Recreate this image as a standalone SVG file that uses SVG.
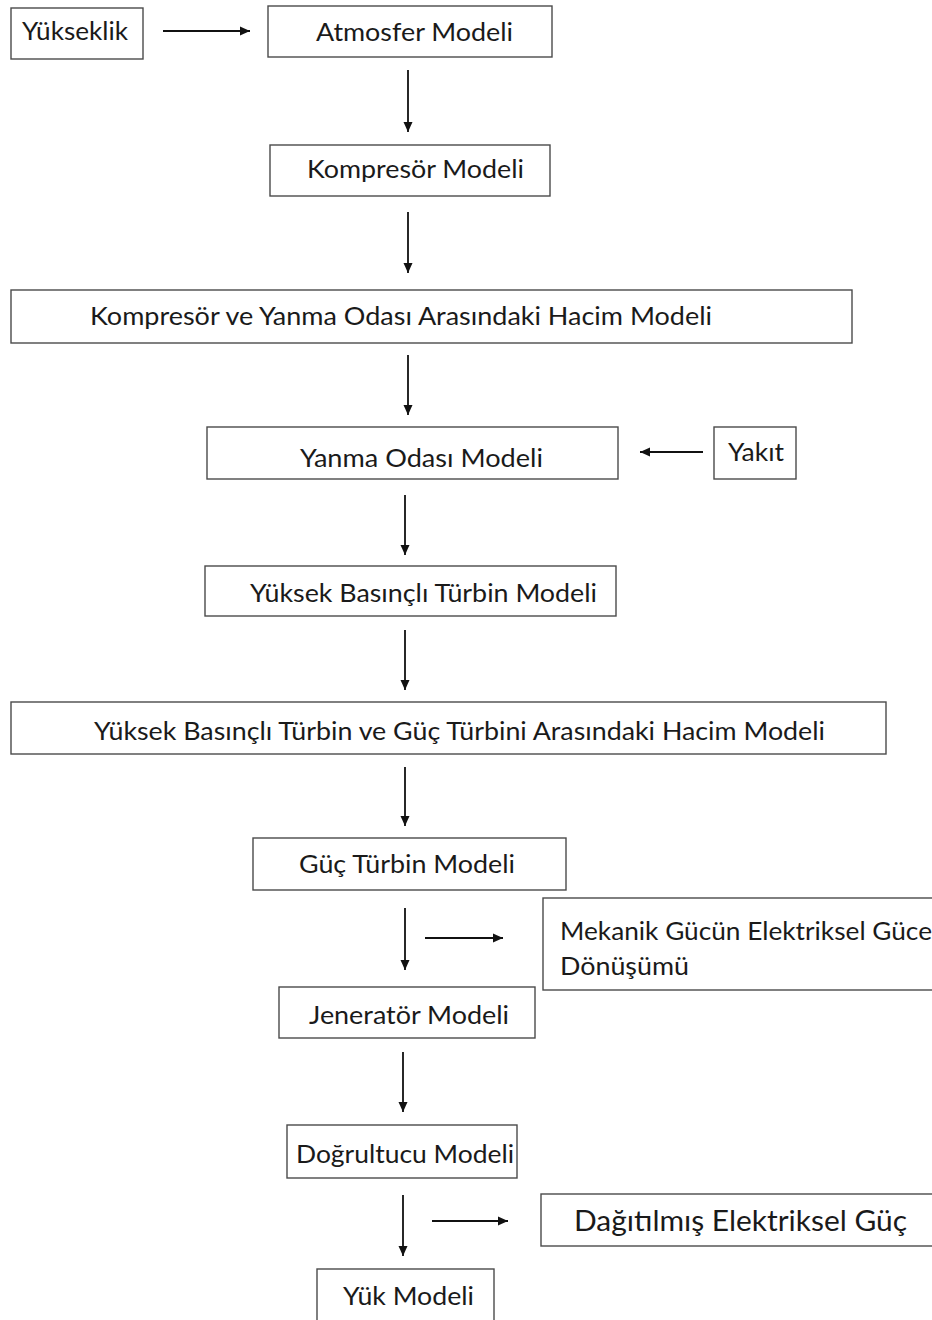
<svg xmlns="http://www.w3.org/2000/svg" width="932" height="1320" viewBox="0 0 932 1320">
<defs>
<style>
rect.b{fill:#fff;stroke:#4a4a4a;stroke-width:1.4}
text{font-family:Lato,"Noto Sans","Liberation Sans",sans-serif;font-size:25.5px;fill:#1a1a1a}
.c line{stroke:#111;stroke-width:1.8;fill:none}
</style>
<marker id="ah" viewBox="0 0 10 10" refX="10" refY="5" markerWidth="11" markerHeight="10" markerUnits="userSpaceOnUse" orient="auto">
<path d="M0,0.5 L10,5 L0,9.5 Z" fill="#111"/>
</marker>
</defs>
<rect width="932" height="1320" fill="#fff"/>
<g id="n-yukseklik"><rect class="b" x="11" y="8" width="132" height="51"/><text x="22" y="40" textLength="106" lengthAdjust="spacingAndGlyphs">Yükseklik</text></g>
<g id="n-atmosfer"><rect class="b" x="268" y="6" width="284" height="51"/><text x="316" y="41" textLength="197" lengthAdjust="spacingAndGlyphs">Atmosfer Modeli</text></g>
<g id="n-kompresor"><rect class="b" x="270" y="145" width="280" height="51"/><text x="307" y="178" textLength="217" lengthAdjust="spacingAndGlyphs">Kompresör Modeli</text></g>
<g id="n-hacim1"><rect class="b" x="11" y="290" width="841" height="53"/><text x="90" y="325" textLength="622" lengthAdjust="spacingAndGlyphs">Kompresör ve Yanma Odası Arasındaki Hacim Modeli</text></g>
<g id="n-yanma"><rect class="b" x="207" y="427" width="411" height="52"/><text x="300" y="467" textLength="243" lengthAdjust="spacingAndGlyphs">Yanma Odası Modeli</text></g>
<g id="n-yakit"><rect class="b" x="714" y="427" width="82" height="52"/><text x="728" y="461" textLength="56" lengthAdjust="spacingAndGlyphs">Yakıt</text></g>
<g id="n-ybt"><rect class="b" x="205" y="566" width="411" height="50"/><text x="250" y="602" textLength="347" lengthAdjust="spacingAndGlyphs">Yüksek Basınçlı Türbin Modeli</text></g>
<g id="n-hacim2"><rect class="b" x="11" y="702" width="875" height="52"/><text x="94" y="740" textLength="731" lengthAdjust="spacingAndGlyphs">Yüksek Basınçlı Türbin ve Güç Türbini Arasındaki Hacim Modeli</text></g>
<g id="n-guc"><rect class="b" x="253" y="838" width="313" height="52"/><text x="299" y="873" textLength="216" lengthAdjust="spacingAndGlyphs">Güç Türbin Modeli</text></g>
<g id="n-mekanik"><rect class="b" x="543" y="898" width="400" height="92"/><text x="560" y="940" textLength="372" lengthAdjust="spacingAndGlyphs">Mekanik Gücün Elektriksel Güce</text><text x="560" y="975" textLength="129" lengthAdjust="spacingAndGlyphs">Dönüşümü</text></g>
<g id="n-jenerator"><rect class="b" x="279" y="987" width="256" height="51"/><text x="309" y="1024" textLength="200" lengthAdjust="spacingAndGlyphs">Jeneratör Modeli</text></g>
<g id="n-dogrultucu"><rect class="b" x="287" y="1125" width="230" height="53"/><text x="296" y="1163" textLength="218" lengthAdjust="spacingAndGlyphs">Doğrultucu Modeli</text></g>
<g id="n-dagitilmis"><rect class="b" x="541" y="1194" width="400" height="52"/><text x="574" y="1231" style="font-size:28px" textLength="333" lengthAdjust="spacingAndGlyphs">Dağıtılmış Elektriksel Güç</text></g>
<g id="n-yuk"><rect class="b" x="317" y="1269" width="177" height="60"/><text x="343" y="1305" textLength="131" lengthAdjust="spacingAndGlyphs">Yük Modeli</text></g>
<g id="connectors" class="c">
<line x1="163" y1="31" x2="250" y2="31" marker-end="url(#ah)"/>
<line x1="408" y1="70" x2="408" y2="132" marker-end="url(#ah)"/>
<line x1="408" y1="212" x2="408" y2="273" marker-end="url(#ah)"/>
<line x1="408" y1="355" x2="408" y2="415" marker-end="url(#ah)"/>
<line x1="703" y1="452" x2="640" y2="452" marker-end="url(#ah)"/>
<line x1="405" y1="495" x2="405" y2="555" marker-end="url(#ah)"/>
<line x1="405" y1="630" x2="405" y2="690" marker-end="url(#ah)"/>
<line x1="405" y1="767" x2="405" y2="826" marker-end="url(#ah)"/>
<line x1="405" y1="908" x2="405" y2="970" marker-end="url(#ah)"/>
<line x1="425" y1="938" x2="503" y2="938" marker-end="url(#ah)"/>
<line x1="403" y1="1052" x2="403" y2="1112" marker-end="url(#ah)"/>
<line x1="403" y1="1195" x2="403" y2="1256" marker-end="url(#ah)"/>
<line x1="432" y1="1221" x2="508" y2="1221" marker-end="url(#ah)"/>
</g>
</svg>
